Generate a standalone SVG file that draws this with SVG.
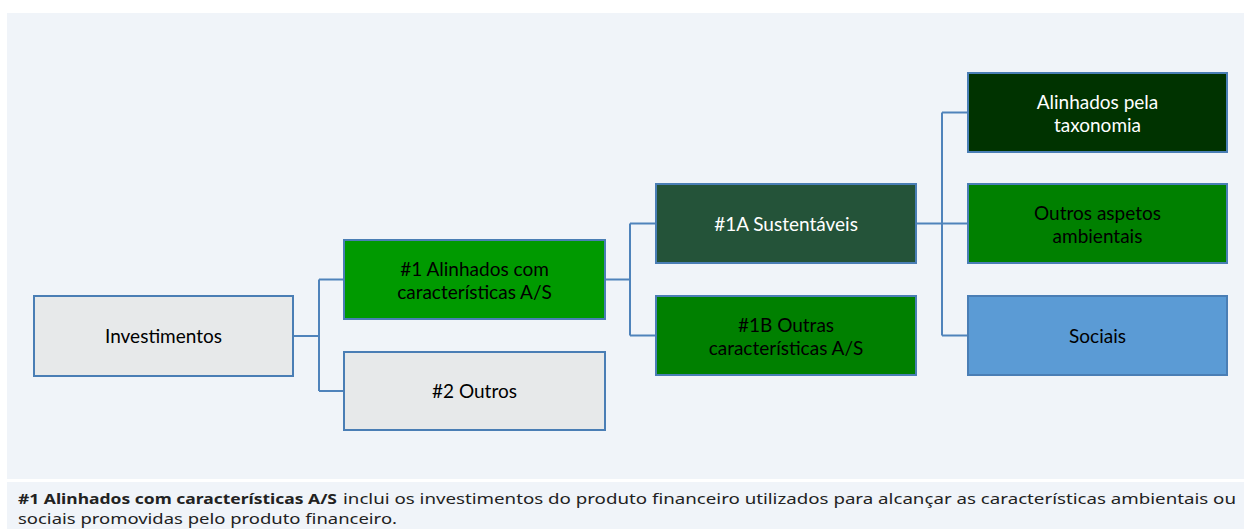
<svg xmlns="http://www.w3.org/2000/svg" width="1244" height="529" viewBox="0 0 1244 529">
<style>
.box{stroke:#4a7eb5;stroke-width:2}
.lbl{font-family:Lato,"Noto Sans","Liberation Sans",sans-serif;font-size:19px;text-anchor:middle}
.dk{fill:#000}
.wt{fill:#fff}
.con{fill:none;stroke:#4f83bb;stroke-width:2}
.note{font-family:"Noto Sans","Open Sans","Liberation Sans",sans-serif;font-size:14.5px;fill:#222}
</style>
<rect x="0" y="0" width="1244" height="529" fill="#ffffff"/>
<rect x="7" y="13" width="1237" height="466" fill="#f0f4f9"/>
<rect x="7" y="482" width="1237" height="47" fill="#f0f4f9"/>
<g id="connectors">
<path class="con" d="M293,336 H319 M319,279.5 V391 M319,279.5 H344 M319,391 H344"/>
<path class="con" d="M605,279.5 H630 M630,223.5 V335.5 M630,223.5 H656 M630,335.5 H656"/>
<path class="con" d="M916,223.5 H942 M942,112.5 V335.5 M942,112.5 H968 M942,223.5 H968 M942,335.5 H968"/>
</g>
<g id="investimentos">
<rect class="box" x="34" y="296" width="259" height="80" fill="#e7e9ea"/>
<text class="lbl dk" x="163.5" y="343">Investimentos</text>
</g>
<g id="alinhados-as">
<rect class="box" x="344" y="240" width="261" height="79" fill="#009a00"/>
<text class="lbl dk" x="474.5" y="275.5">#1 Alinhados com</text>
<text class="lbl dk" x="474.5" y="298.5">características A/S</text>
</g>
<g id="outros">
<rect class="box" x="344" y="352" width="261" height="78" fill="#e7e9ea"/>
<text class="lbl dk" x="474.5" y="398">#2 Outros</text>
</g>
<g id="sustentaveis">
<rect class="box" x="656" y="184" width="260" height="79" fill="#245339"/>
<text class="lbl wt" x="786" y="230.5">#1A Sustentáveis</text>
</g>
<g id="outras-caracteristicas">
<rect class="box" x="656" y="296" width="260" height="79" fill="#008000"/>
<text class="lbl dk" x="786" y="331.5">#1B Outras</text>
<text class="lbl dk" x="786" y="354.5">características A/S</text>
</g>
<g id="taxonomia">
<rect class="box" x="968" y="73" width="259" height="79" fill="#003300"/>
<text class="lbl wt" x="1097.5" y="108.5">Alinhados pela</text>
<text class="lbl wt" x="1097.5" y="131.5">taxonomia</text>
</g>
<g id="ambientais">
<rect class="box" x="968" y="184" width="259" height="79" fill="#008000"/>
<text class="lbl dk" x="1097.5" y="219.5">Outros aspetos</text>
<text class="lbl dk" x="1097.5" y="242.5">ambientais</text>
</g>
<g id="sociais">
<rect class="box" x="968" y="296" width="259" height="79" fill="#5b9bd5"/>
<text class="lbl dk" x="1097.5" y="342.5">Sociais</text>
</g>
<g id="nota">
<text class="note" x="18" y="504" font-weight="bold" textLength="319" lengthAdjust="spacingAndGlyphs">#1 Alinhados com características A/S</text>
<text class="note" x="343" y="504" textLength="893" lengthAdjust="spacingAndGlyphs">inclui os investimentos do produto financeiro utilizados para alcançar as características ambientais ou</text>
<text class="note" x="18" y="524" textLength="379" lengthAdjust="spacingAndGlyphs">sociais promovidas pelo produto financeiro.</text>
</g>
</svg>
